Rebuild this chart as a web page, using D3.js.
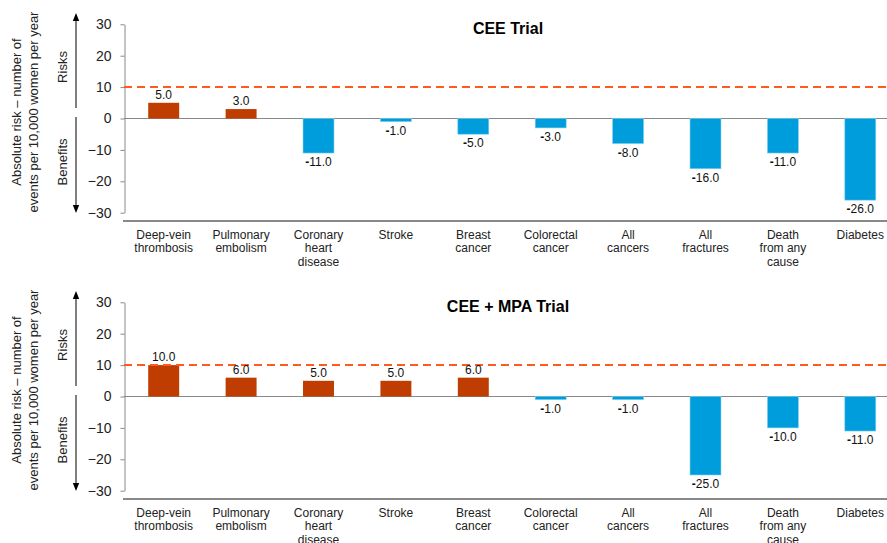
<!DOCTYPE html>
<html>
<head>
<meta charset="utf-8">
<style>
  body { margin: 0; background: #fff; }
  svg { font-family: 'Liberation Sans', Arial, sans-serif; display: block; }
  .tick text { font-size: 14px; fill: #222; }
  .tick line, .domain { stroke: #888; }
</style>
</head>
<body>
<svg width="887" height="543"></svg>
<script src="https://d3js.org/d3.v7.min.js"></script>
<script>
// categories, wrapped the way the source chart wraps them
const categories = [
  "Deep-vein thrombosis", "Pulmonary embolism", "Coronary heart disease", "Stroke",
  "Breast cancer", "Colorectal cancer", "All cancers", "All fractures",
  "Death from any cause", "Diabetes"
];
const categoryLines = [
  ["Deep-vein", "thrombosis"], ["Pulmonary", "embolism"], ["Coronary", "heart", "disease"], ["Stroke"],
  ["Breast", "cancer"], ["Colorectal", "cancer"], ["All", "cancers"], ["All", "fractures"],
  ["Death", "from any", "cause"], ["Diabetes"]
];
const ceeValues = [5, 3, -11, -1, -5, -3, -8, -16, -11, -26];
const ceeMpaValues = [10, 6, 5, 5, 6, -1, -1, -25, -10, -11];
const panelTitles = ["CEE Trial", "CEE + MPA Trial"];
const yTicks = [-30, -20, -10, 0, 10, 20, 30];
const thresholdValue = 10;

const riskColor = "#bf3d00";
const benefitColor = "#009ddc";

let svg = d3.select("svg");

let x = d3.scaleBand()
  .domain(categories)
  .range([125, 899])
  .paddingInner(0.6)
  .paddingOuter(0.3);

let y = d3.scaleLinear()
  .domain([-30, 30])
  .range([212.7, 24.3]);

// arrowhead for the risks / benefits arrow
svg.append("defs").append("marker")
  .attr("id", "arrow")
  .attr("viewBox", "0 0 10 10")
  .attr("refX", 5).attr("refY", 5)
  .attr("markerWidth", 8).attr("markerHeight", 8)
  .attr("orient", "auto-start-reverse")
  .append("path")
  .attr("d", "M0,1 L10,5 L0,9 z")
  .attr("fill", "#000");

function drawPanel(values, title, offset) {
  let g = svg.append("g").attr("transform", "translate(0," + offset + ")");

  // title
  g.append("text")
    .attr("x", 508).attr("y", 34)
    .attr("text-anchor", "middle")
    .style("font-size", "16px").style("font-weight", "bold")
    .text(title);

  // y axis
  let yAxis = g.append("g")
    .attr("transform", "translate(124.5,0)")
    .call(d3.axisLeft(y).tickValues(yTicks).tickSize(4).tickSizeOuter(0).tickPadding(9));
  yAxis.select(".domain").attr("stroke", "#888");

  // zero line
  g.append("line")
    .attr("x1", 124).attr("x2", 887)
    .attr("y1", y(0)).attr("y2", y(0))
    .attr("stroke", "#888").attr("stroke-width", 1);

  // bottom baseline
  g.append("line")
    .attr("x1", 123).attr("x2", 887)
    .attr("y1", 221).attr("y2", 221)
    .attr("stroke", "#888").attr("stroke-width", 2);

  // bars
  g.selectAll(".bar")
    .data(values)
    .join("rect")
    .attr("class", "bar")
    .attr("x", (d, i) => x(categories[i]))
    .attr("width", x.bandwidth())
    .attr("y", d => y(Math.max(0, d)))
    .attr("height", d => Math.abs(y(d) - y(0)))
    .attr("fill", d => d >= 0 ? riskColor : benefitColor)
    .attr("stroke", d => d >= 0 ? "none" : "#7fd0f0")
    .attr("stroke-width", 0.6);

  // threshold dashed line
  g.append("line")
    .attr("x1", 124).attr("x2", 887)
    .attr("y1", y(thresholdValue)).attr("y2", y(thresholdValue))
    .attr("stroke", "#ff5a1f").attr("stroke-width", 2)
    .attr("stroke-dasharray", "8,5");

  // value labels
  let labels = g.selectAll(".val")
    .data(values)
    .join("text")
    .attr("class", "val")
    .attr("x", (d, i) => x(categories[i]) + x.bandwidth() / 2)
    .attr("y", d => d >= 0 ? y(d) - 4 : y(d) + 13)
    .attr("text-anchor", "middle")
    .style("font-size", "12px")
    .style("fill", "#111");
  labels.each(function (d) {
    let t = d3.select(this);
    if (d < 0) {
      t.append("tspan").style("font-weight", "bold").text("-");
    }
    t.append("tspan").text(Math.abs(d).toFixed(1));
  });

  // category labels
  g.selectAll(".cat")
    .data(categoryLines)
    .join("text")
    .attr("class", "cat")
    .attr("text-anchor", "middle")
    .style("font-size", "12px")
    .style("fill", "#222")
    .each(function (lines, i) {
      let cx = x(categories[i]) + x.bandwidth() / 2;
      d3.select(this).selectAll("tspan")
        .data(lines)
        .join("tspan")
        .attr("x", cx)
        .attr("y", (l, j) => 238.5 + j * 13.5)
        .text(l => l);
    });

  // y axis title
  g.append("text")
    .attr("transform", "translate(21,112) rotate(-90)")
    .attr("text-anchor", "middle")
    .style("font-size", "13px").style("fill", "#222")
    .text("Absolute risk \u2013 number of");
  g.append("text")
    .attr("transform", "translate(37.5,112) rotate(-90)")
    .attr("text-anchor", "middle")
    .style("font-size", "13px").style("fill", "#222")
    .text("events per 10,000 women per year");

  // risks / benefits arrows
  g.append("line")
    .attr("x1", 76).attr("x2", 76)
    .attr("y1", 108).attr("y2", 17)
    .attr("stroke", "#000").attr("stroke-width", 1)
    .attr("marker-end", "url(#arrow)");
  g.append("line")
    .attr("x1", 76).attr("x2", 76)
    .attr("y1", 117).attr("y2", 209)
    .attr("stroke", "#000").attr("stroke-width", 1)
    .attr("marker-end", "url(#arrow)");

  g.append("text")
    .attr("transform", "translate(66.5,67) rotate(-90)")
    .attr("text-anchor", "middle")
    .style("font-size", "13px").style("fill", "#222")
    .text("Risks");
  g.append("text")
    .attr("transform", "translate(66.5,162) rotate(-90)")
    .attr("text-anchor", "middle")
    .style("font-size", "13px").style("fill", "#222")
    .text("Benefits");
}

drawPanel(ceeValues, panelTitles[0], 0);
drawPanel(ceeMpaValues, panelTitles[1], 278);
</script>
</body>
</html>
